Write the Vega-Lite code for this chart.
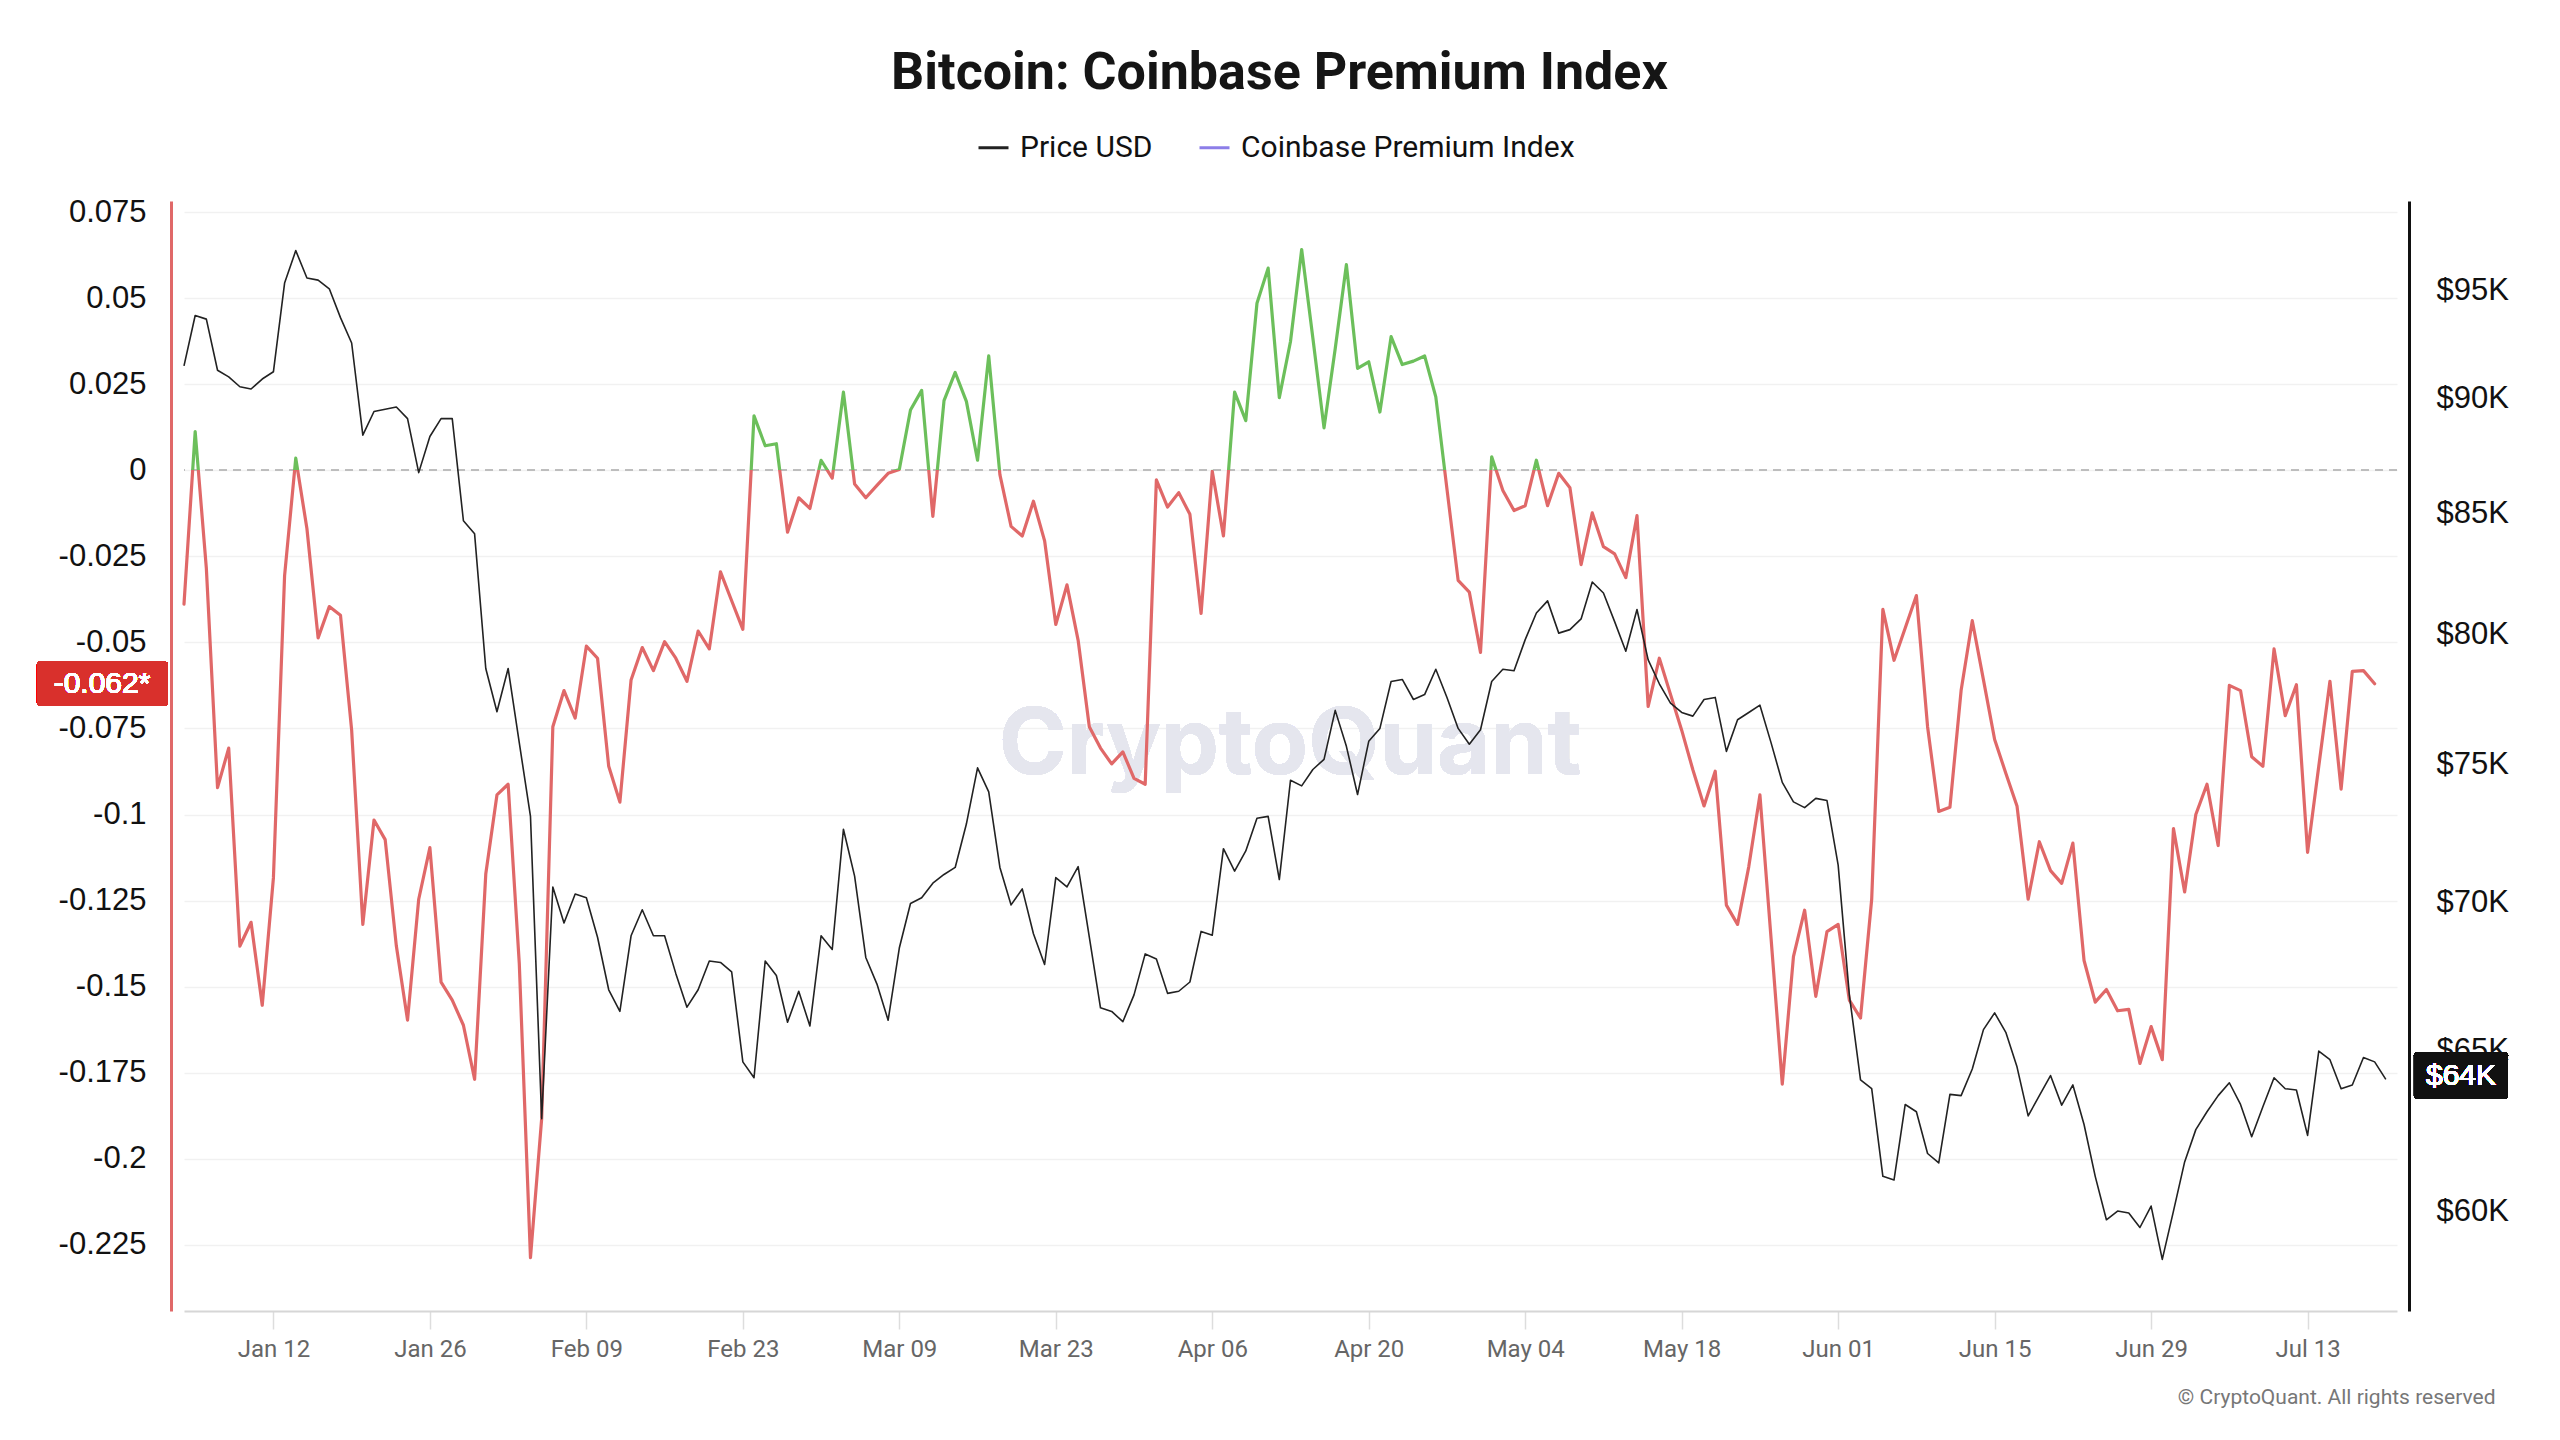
{
  "$schema": "https://vega.github.io/schema/vega-lite/v6.json",
  "width": 2213,
  "height": 1110,
  "autosize": {"type": "none"},
  "padding": {"left": 184, "top": 201, "right": 163, "bottom": 129},
  "background": "white",
  "title": {
    "text": "Bitcoin: Coinbase Premium Index",
    "font": "Roboto",
    "fontSize": 52,
    "fontWeight": 700,
    "color": "#151515",
    "anchor": "middle",
    "frame": "group",
    "offset": 31,
    "dx": -11
  },
  "config": {
    "view": {"stroke": null},
    "axis": {"labelFont": "Liberation Sans", "labelColor": "#111111"},
    "legend": {"labelFont": "Roboto"}
  },
  "data": {
    "values": [
      {"date": "2026-01-04", "price": 91500, "premium": -0.0389},
      {"date": "2026-01-05", "price": 93830, "premium": 0.0112},
      {"date": "2026-01-06", "price": 93660, "premium": -0.0285},
      {"date": "2026-01-07", "price": 91300, "premium": -0.0922},
      {"date": "2026-01-08", "price": 91000, "premium": -0.0807},
      {"date": "2026-01-09", "price": 90550, "premium": -0.1382},
      {"date": "2026-01-10", "price": 90450, "premium": -0.1313},
      {"date": "2026-01-11", "price": 90900, "premium": -0.1554},
      {"date": "2026-01-12", "price": 91230, "premium": -0.1184},
      {"date": "2026-01-13", "price": 95360, "premium": -0.0306},
      {"date": "2026-01-14", "price": 96920, "premium": 0.0035},
      {"date": "2026-01-15", "price": 95600, "premium": -0.0170},
      {"date": "2026-01-16", "price": 95500, "premium": -0.0487},
      {"date": "2026-01-17", "price": 95090, "premium": -0.0396},
      {"date": "2026-01-18", "price": 93730, "premium": -0.0421},
      {"date": "2026-01-19", "price": 92550, "premium": -0.0755},
      {"date": "2026-01-20", "price": 88390, "premium": -0.1319},
      {"date": "2026-01-21", "price": 89440, "premium": -0.1016},
      {"date": "2026-01-22", "price": 89540, "premium": -0.1073},
      {"date": "2026-01-23", "price": 89640, "premium": -0.1382},
      {"date": "2026-01-24", "price": 89120, "premium": -0.1597},
      {"date": "2026-01-25", "price": 86750, "premium": -0.1246},
      {"date": "2026-01-26", "price": 88330, "premium": -0.1096},
      {"date": "2026-01-27", "price": 89120, "premium": -0.1487},
      {"date": "2026-01-28", "price": 89120, "premium": -0.1539},
      {"date": "2026-01-29", "price": 84690, "premium": -0.1612},
      {"date": "2026-01-30", "price": 84140, "premium": -0.1769},
      {"date": "2026-01-31", "price": 78670, "premium": -0.1173},
      {"date": "2026-02-01", "price": 76990, "premium": -0.0943},
      {"date": "2026-02-02", "price": 78670, "premium": -0.0912},
      {"date": "2026-02-03", "price": 75800, "premium": -0.1434},
      {"date": "2026-02-04", "price": 73070, "premium": -0.2287},
      {"date": "2026-02-05", "price": 62830, "premium": -0.1884},
      {"date": "2026-02-06", "price": 70540, "premium": -0.0745},
      {"date": "2026-02-07", "price": 69280, "premium": -0.0640},
      {"date": "2026-02-08", "price": 70290, "premium": -0.0720},
      {"date": "2026-02-09", "price": 70160, "premium": -0.0511},
      {"date": "2026-02-10", "price": 68790, "premium": -0.0546},
      {"date": "2026-02-11", "price": 67010, "premium": -0.0860},
      {"date": "2026-02-12", "price": 66290, "premium": -0.0964},
      {"date": "2026-02-13", "price": 68840, "premium": -0.0609},
      {"date": "2026-02-14", "price": 69740, "premium": -0.0515},
      {"date": "2026-02-15", "price": 68840, "premium": -0.0582},
      {"date": "2026-02-16", "price": 68840, "premium": -0.0498},
      {"date": "2026-02-17", "price": 67560, "premium": -0.0546},
      {"date": "2026-02-18", "price": 66430, "premium": -0.0613},
      {"date": "2026-02-19", "price": 67010, "premium": -0.0467},
      {"date": "2026-02-20", "price": 67980, "premium": -0.0519},
      {"date": "2026-02-21", "price": 67930, "premium": -0.0295},
      {"date": "2026-02-22", "price": 67610, "premium": -0.0379},
      {"date": "2026-02-23", "price": 64640, "premium": -0.0462},
      {"date": "2026-02-24", "price": 64130, "premium": 0.0158},
      {"date": "2026-02-25", "price": 67980, "premium": 0.0071},
      {"date": "2026-02-26", "price": 67490, "premium": 0.0077},
      {"date": "2026-02-27", "price": 65930, "premium": -0.0180},
      {"date": "2026-02-28", "price": 66960, "premium": -0.0080},
      {"date": "2026-03-01", "price": 65810, "premium": -0.0111},
      {"date": "2026-03-02", "price": 68840, "premium": 0.0029},
      {"date": "2026-03-03", "price": 68370, "premium": -0.0023},
      {"date": "2026-03-04", "price": 72600, "premium": 0.0227},
      {"date": "2026-03-05", "price": 70920, "premium": -0.0040},
      {"date": "2026-03-06", "price": 68100, "premium": -0.0080},
      {"date": "2026-03-07", "price": 67200, "premium": -0.0044},
      {"date": "2026-03-08", "price": 66000, "premium": -0.0009},
      {"date": "2026-03-09", "price": 68420, "premium": 0.0002},
      {"date": "2026-03-10", "price": 69960, "premium": 0.0175},
      {"date": "2026-03-11", "price": 70160, "premium": 0.0232},
      {"date": "2026-03-12", "price": 70670, "premium": -0.0134},
      {"date": "2026-03-13", "price": 70980, "premium": 0.0202},
      {"date": "2026-03-14", "price": 71230, "premium": 0.0284},
      {"date": "2026-03-15", "price": 72790, "premium": 0.0200},
      {"date": "2026-03-16", "price": 74860, "premium": 0.0029},
      {"date": "2026-03-17", "price": 73970, "premium": 0.0332},
      {"date": "2026-03-18", "price": 71230, "premium": -0.0013},
      {"date": "2026-03-19", "price": 69910, "premium": -0.0163},
      {"date": "2026-03-20", "price": 70470, "premium": -0.0191},
      {"date": "2026-03-21", "price": 68910, "premium": -0.0090},
      {"date": "2026-03-22", "price": 67860, "premium": -0.0205},
      {"date": "2026-03-23", "price": 70870, "premium": -0.0448},
      {"date": "2026-03-24", "price": 70540, "premium": -0.0333},
      {"date": "2026-03-25", "price": 71260, "premium": -0.0494},
      {"date": "2026-03-26", "price": 68790, "premium": -0.0745},
      {"date": "2026-03-27", "price": 66410, "premium": -0.0807},
      {"date": "2026-03-28", "price": 66290, "premium": -0.0853},
      {"date": "2026-03-29", "price": 65950, "premium": -0.0818},
      {"date": "2026-03-30", "price": 66840, "premium": -0.0895},
      {"date": "2026-03-31", "price": 68220, "premium": -0.0912},
      {"date": "2026-04-01", "price": 68050, "premium": -0.0028},
      {"date": "2026-04-02", "price": 66890, "premium": -0.0107},
      {"date": "2026-04-03", "price": 66960, "premium": -0.0065},
      {"date": "2026-04-04", "price": 67270, "premium": -0.0128},
      {"date": "2026-04-05", "price": 68990, "premium": -0.0416},
      {"date": "2026-04-06", "price": 68860, "premium": -0.0003},
      {"date": "2026-04-07", "price": 71900, "premium": -0.0191},
      {"date": "2026-04-08", "price": 71100, "premium": 0.0227},
      {"date": "2026-04-09", "price": 71820, "premium": 0.0144},
      {"date": "2026-04-10", "price": 73000, "premium": 0.0485},
      {"date": "2026-04-11", "price": 73070, "premium": 0.0587},
      {"date": "2026-04-12", "price": 70800, "premium": 0.0211},
      {"date": "2026-04-13", "price": 74400, "premium": 0.0374},
      {"date": "2026-04-14", "price": 74190, "premium": 0.0641},
      {"date": "2026-04-15", "price": 74800, "premium": 0.0384},
      {"date": "2026-04-16", "price": 75180, "premium": 0.0123},
      {"date": "2026-04-17", "price": 77040, "premium": 0.0353},
      {"date": "2026-04-18", "price": 75670, "premium": 0.0597},
      {"date": "2026-04-19", "price": 73870, "premium": 0.0296},
      {"date": "2026-04-20", "price": 75860, "premium": 0.0315},
      {"date": "2026-04-21", "price": 76350, "premium": 0.0169},
      {"date": "2026-04-22", "price": 78160, "premium": 0.0388},
      {"date": "2026-04-23", "price": 78240, "premium": 0.0307},
      {"date": "2026-04-24", "price": 77460, "premium": 0.0317},
      {"date": "2026-04-25", "price": 77650, "premium": 0.0332},
      {"date": "2026-04-26", "price": 78640, "premium": 0.0213},
      {"date": "2026-04-27", "price": 77540, "premium": -0.0055},
      {"date": "2026-04-28", "price": 76350, "premium": -0.0320},
      {"date": "2026-04-29", "price": 75750, "premium": -0.0354},
      {"date": "2026-04-30", "price": 76300, "premium": -0.0529},
      {"date": "2026-05-01", "price": 78160, "premium": 0.0039},
      {"date": "2026-05-02", "price": 78640, "premium": -0.0059},
      {"date": "2026-05-03", "price": 78580, "premium": -0.0117},
      {"date": "2026-05-04", "price": 79810, "premium": -0.0103},
      {"date": "2026-05-05", "price": 80880, "premium": 0.0029},
      {"date": "2026-05-06", "price": 81370, "premium": -0.0103},
      {"date": "2026-05-07", "price": 80070, "premium": -0.0009},
      {"date": "2026-05-08", "price": 80210, "premium": -0.0051},
      {"date": "2026-05-09", "price": 80640, "premium": -0.0274},
      {"date": "2026-05-10", "price": 82140, "premium": -0.0124},
      {"date": "2026-05-11", "price": 81690, "premium": -0.0222},
      {"date": "2026-05-12", "price": 80530, "premium": -0.0243},
      {"date": "2026-05-13", "price": 79350, "premium": -0.0312},
      {"date": "2026-05-14", "price": 81020, "premium": -0.0132},
      {"date": "2026-05-15", "price": 79010, "premium": -0.0686},
      {"date": "2026-05-16", "price": 78070, "premium": -0.0546},
      {"date": "2026-05-17", "price": 77320, "premium": -0.0651},
      {"date": "2026-05-18", "price": 76960, "premium": -0.0755},
      {"date": "2026-05-19", "price": 76820, "premium": -0.0870},
      {"date": "2026-05-20", "price": 77460, "premium": -0.0975},
      {"date": "2026-05-21", "price": 77540, "premium": -0.0874},
      {"date": "2026-05-22", "price": 75480, "premium": -0.1263},
      {"date": "2026-05-23", "price": 76680, "premium": -0.1319},
      {"date": "2026-05-24", "price": 76960, "premium": -0.1152},
      {"date": "2026-05-25", "price": 77240, "premium": -0.0943},
      {"date": "2026-05-26", "price": 75800, "premium": -0.1361},
      {"date": "2026-05-27", "price": 74320, "premium": -0.1783},
      {"date": "2026-05-28", "price": 73600, "premium": -0.1413},
      {"date": "2026-05-29", "price": 73390, "premium": -0.1278},
      {"date": "2026-05-30", "price": 73730, "premium": -0.1528},
      {"date": "2026-05-31", "price": 73650, "premium": -0.1340},
      {"date": "2026-06-01", "price": 71310, "premium": -0.1319},
      {"date": "2026-06-02", "price": 66840, "premium": -0.1539},
      {"date": "2026-06-03", "price": 64060, "premium": -0.1591},
      {"date": "2026-06-04", "price": 63780, "premium": -0.1246},
      {"date": "2026-06-05", "price": 61050, "premium": -0.0404},
      {"date": "2026-06-06", "price": 60940, "premium": -0.0552},
      {"date": "2026-06-07", "price": 63280, "premium": -0.0458},
      {"date": "2026-06-08", "price": 63050, "premium": -0.0364},
      {"date": "2026-06-09", "price": 61750, "premium": -0.0745},
      {"date": "2026-06-10", "price": 61460, "premium": -0.0991},
      {"date": "2026-06-11", "price": 63600, "premium": -0.0979},
      {"date": "2026-06-12", "price": 63560, "premium": -0.0640},
      {"date": "2026-06-13", "price": 64410, "premium": -0.0437},
      {"date": "2026-06-14", "price": 65690, "premium": -0.0609},
      {"date": "2026-06-15", "price": 66240, "premium": -0.0782},
      {"date": "2026-06-16", "price": 65600, "premium": -0.0880},
      {"date": "2026-06-17", "price": 64480, "premium": -0.0975},
      {"date": "2026-06-18", "price": 62920, "premium": -0.1246},
      {"date": "2026-06-19", "price": 63560, "premium": -0.1079},
      {"date": "2026-06-20", "price": 64200, "premium": -0.1163},
      {"date": "2026-06-21", "price": 63260, "premium": -0.1200},
      {"date": "2026-06-22", "price": 63900, "premium": -0.1083},
      {"date": "2026-06-23", "price": 62650, "premium": -0.1424},
      {"date": "2026-06-24", "price": 61050, "premium": -0.1545},
      {"date": "2026-06-25", "price": 59740, "premium": -0.1508},
      {"date": "2026-06-26", "price": 60000, "premium": -0.1570},
      {"date": "2026-06-27", "price": 59940, "premium": -0.1566},
      {"date": "2026-06-28", "price": 59510, "premium": -0.1723},
      {"date": "2026-06-29", "price": 60150, "premium": -0.1616},
      {"date": "2026-06-30", "price": 58570, "premium": -0.1712},
      {"date": "2026-07-01", "price": 60000, "premium": -0.1041},
      {"date": "2026-07-02", "price": 61490, "premium": -0.1225},
      {"date": "2026-07-03", "price": 62490, "premium": -0.1000},
      {"date": "2026-07-04", "price": 63050, "premium": -0.0912},
      {"date": "2026-07-05", "price": 63560, "premium": -0.1090},
      {"date": "2026-07-06", "price": 63970, "premium": -0.0625},
      {"date": "2026-07-07", "price": 63280, "premium": -0.0640},
      {"date": "2026-07-08", "price": 62270, "premium": -0.0832},
      {"date": "2026-07-09", "price": 63210, "premium": -0.0860},
      {"date": "2026-07-10", "price": 64130, "premium": -0.0519},
      {"date": "2026-07-11", "price": 63780, "premium": -0.0713},
      {"date": "2026-07-12", "price": 63740, "premium": -0.0623},
      {"date": "2026-07-13", "price": 62310, "premium": -0.1110},
      {"date": "2026-07-14", "price": 64990, "premium": -0.0860},
      {"date": "2026-07-15", "price": 64710, "premium": -0.0613},
      {"date": "2026-07-16", "price": 63780, "premium": -0.0926},
      {"date": "2026-07-17", "price": 63900, "premium": -0.0584},
      {"date": "2026-07-18", "price": 64780, "premium": -0.0582},
      {"date": "2026-07-19", "price": 64640, "premium": -0.0620},
      {"date": "2026-07-20", "price": 64080, "premium": null}
    ]
  },
  "layer": [
    {
      "layer": [
        {
          "mark": {"type": "text", "font": "Inter", "fontSize": 92, "fontWeight": 700, "color": "#e5e6ee", "align": "center", "baseline": "middle"},
          "encoding": {
            "x": {"datum": {"year": 2026, "month": 4, "date": 12, "hours": 23, "utc": true}, "type": "temporal", "scale": {"type": "utc", "domain": [{"year": 2026, "month": 1, "date": 4, "utc": true}, {"year": 2026, "month": 7, "date": 21, "utc": true}]}},
            "y": {"datum": -0.08, "type": "quantitative"},
            "text": {"value": "CryptoQuant"}
          }
        },
        {
          "mark": {"type": "rule", "color": "#bdbdbd", "strokeWidth": 1.5, "strokeDash": [8, 6]},
          "encoding": {"y": {"datum": 0, "type": "quantitative"}}
        },
        {
          "mark": {
            "type": "line",
            "strokeWidth": 3.2,
            "strokeJoin": "round",
            "strokeCap": "round",
            "color": {
              "gradient": "linear",
              "x1": 0, "y1": 0, "x2": 0, "y2": 1,
              "stops": [
                {"offset": 0, "color": "#6cbf5b"},
                {"offset": 0.2189, "color": "#6cbf5b"},
                {"offset": 0.2189, "color": "#e06868"},
                {"offset": 1, "color": "#e06868"}
              ]
            }
          },
          "encoding": {
            "x": {
              "field": "date",
              "type": "temporal",
              "scale": {"type": "utc", "domain": [{"year": 2026, "month": 1, "date": 4, "utc": true}, {"year": 2026, "month": 7, "date": 21, "utc": true}]},
              "axis": {
                "values": [
                  {"year": 2026, "month": 1, "date": 12, "utc": true},
                  {"year": 2026, "month": 1, "date": 26, "utc": true},
                  {"year": 2026, "month": 2, "date": 9, "utc": true},
                  {"year": 2026, "month": 2, "date": 23, "utc": true},
                  {"year": 2026, "month": 3, "date": 9, "utc": true},
                  {"year": 2026, "month": 3, "date": 23, "utc": true},
                  {"year": 2026, "month": 4, "date": 6, "utc": true},
                  {"year": 2026, "month": 4, "date": 20, "utc": true},
                  {"year": 2026, "month": 5, "date": 4, "utc": true},
                  {"year": 2026, "month": 5, "date": 18, "utc": true},
                  {"year": 2026, "month": 6, "date": 1, "utc": true},
                  {"year": 2026, "month": 6, "date": 15, "utc": true},
                  {"year": 2026, "month": 6, "date": 29, "utc": true},
                  {"year": 2026, "month": 7, "date": 13, "utc": true}
                ],
                "format": "%b %d",
                "grid": false,
                "labelFont": "Roboto",
                "labelFontSize": 24,
                "labelColor": "#666666",
                "labelPadding": 8,
                "tickColor": "#dddddd",
                "tickSize": 18,
                "tickWidth": 1.5,
                "domainColor": "#d6d6d6",
                "domainWidth": 2,
                "title": "© CryptoQuant. All rights reserved",
                "titleFont": "Roboto",
                "titleFontSize": 21,
                "titleFontWeight": "normal",
                "titleColor": "#777777",
                "titleAnchor": "end",
                "titleAlign": "right",
                "titleBaseline": "middle",
                "titleX": 2311,
                "titleY": 86
              }
            },
            "y": {
              "field": "premium",
              "type": "quantitative",
              "scale": {"domain": [-0.2442, 0.0782], "nice": false, "zero": false},
              "axis": {
                "orient": "left",
                "values": [0.075, 0.05, 0.025, 0, -0.025, -0.05, -0.075, -0.1, -0.125, -0.15, -0.175, -0.2, -0.225],
                "labelExpr": "toString(datum.value)",
                "labelFontSize": 31,
                "labelPadding": 25,
                "ticks": false,
                "tickSize": 0,
                "grid": true,
                "gridColor": "#f1f1f1",
                "gridWidth": 1.5,
                "domainColor": "#e06868",
                "domainWidth": 3,
                "offset": 13,
                "title": null
              }
            }
          }
        },
        {
          "mark": {"type": "rect", "color": "#d9302c", "cornerRadius": 3},
          "encoding": {
            "x": {"datum": {"year": 2025, "month": 12, "date": 21, "hours": 20, "minutes": 20, "utc": true}, "type": "temporal", "scale": {"type": "utc", "domain": [{"year": 2026, "month": 1, "date": 4, "utc": true}, {"year": 2026, "month": 7, "date": 21, "utc": true}]}},
            "x2": {"datum": {"year": 2026, "month": 1, "date": 2, "hours": 12, "minutes": 30, "utc": true}},
            "y": {"datum": -0.0555, "type": "quantitative"},
            "y2": {"datum": -0.0685}
          }
        },
        {
          "mark": {"type": "text", "font": "Liberation Sans", "fontSize": 30, "color": "white", "align": "center", "baseline": "middle"},
          "encoding": {
            "x": {"datum": {"year": 2025, "month": 12, "date": 27, "hours": 16, "utc": true}, "type": "temporal", "scale": {"type": "utc", "domain": [{"year": 2026, "month": 1, "date": 4, "utc": true}, {"year": 2026, "month": 7, "date": 21, "utc": true}]}},
            "y": {"datum": -0.062, "type": "quantitative"},
            "text": {"value": "-0.062*"}
          }
        }
      ]
    },
    {
      "layer": [
        {
          "mark": {"type": "line", "strokeWidth": 1.6, "strokeJoin": "round"},
          "encoding": {
            "x": {"field": "date", "type": "temporal", "scale": {"type": "utc", "domain": [{"year": 2026, "month": 1, "date": 4, "utc": true}, {"year": 2026, "month": 7, "date": 21, "utc": true}]}},
            "y": {
              "field": "price",
              "type": "quantitative",
              "scale": {"type": "log", "domain": [57080, 99350], "nice": false},
              "axis": {
                "orient": "right",
                "values": [60000, 65000, 70000, 75000, 80000, 85000, 90000, 95000],
                "labelExpr": "'$' + datum.value / 1000 + 'K'",
                "labelFontSize": 31,
                "labelPadding": 27,
                "ticks": false,
                "tickSize": 0,
                "grid": false,
                "domainColor": "#111111",
                "domainWidth": 3,
                "offset": 12,
                "title": null
              }
            },
            "stroke": {
              "datum": "Price USD",
              "type": "nominal",
              "scale": {"domain": ["Price USD", "Coinbase Premium Index"], "range": ["#222222", "#8c7ee8"]},
              "legend": {
                "title": null,
                "orient": "none",
                "direction": "horizontal",
                "legendX": 793,
                "legendY": -70,
                "symbolType": "stroke",
                "symbolSize": 900,
                "symbolStrokeWidth": 3,
                "labelFontSize": 30,
                "labelLimit": 0,
                "labelColor": "#111111",
                "labelOffset": 10,
                "columnPadding": 40
              }
            }
          }
        },
        {
          "mark": {"type": "rect", "color": "#111111", "cornerRadius": 3},
          "encoding": {
            "x": {"datum": {"year": 2026, "month": 7, "date": 22, "hours": 12, "minutes": 30, "utc": true}, "type": "temporal", "scale": {"type": "utc", "domain": [{"year": 2026, "month": 1, "date": 4, "utc": true}, {"year": 2026, "month": 7, "date": 21, "utc": true}]}},
            "x2": {"datum": {"year": 2026, "month": 7, "date": 30, "hours": 22, "minutes": 20, "utc": true}},
            "y": {"datum": 64940, "type": "quantitative"},
            "y2": {"datum": 63450}
          }
        },
        {
          "mark": {"type": "text", "font": "Liberation Sans", "fontSize": 30, "color": "white", "align": "center", "baseline": "middle"},
          "encoding": {
            "x": {"datum": {"year": 2026, "month": 7, "date": 26, "hours": 17, "minutes": 30, "utc": true}, "type": "temporal", "scale": {"type": "utc", "domain": [{"year": 2026, "month": 1, "date": 4, "utc": true}, {"year": 2026, "month": 7, "date": 21, "utc": true}]}},
            "y": {"datum": 64180, "type": "quantitative"},
            "text": {"value": "$64K"}
          }
        }
      ]
    }
  ],
  "resolve": {"scale": {"y": "independent"}}
}
